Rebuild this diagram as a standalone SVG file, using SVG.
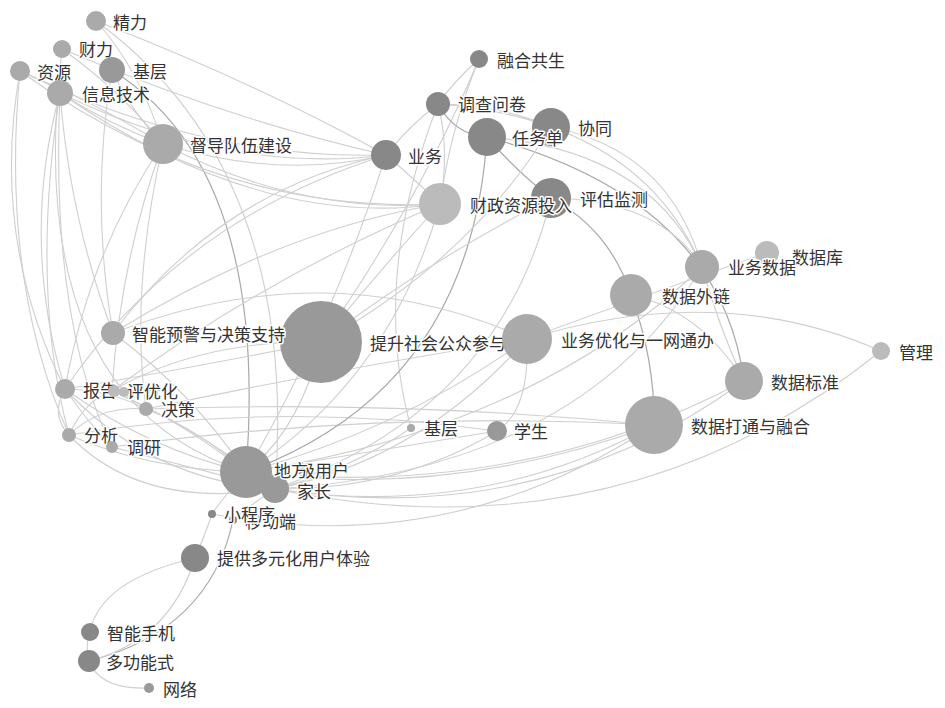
<svg xmlns="http://www.w3.org/2000/svg" width="945" height="708" viewBox="0 0 945 708">
<style>
.e{fill:none;stroke:#cfcfcf;stroke-width:1.1}
.d{fill:none;stroke:#a8a8a8;stroke-width:1.2}
.lbl{font-family:"Noto Sans CJK SC","Noto Sans",sans-serif;font-size:17px;fill:#333;stroke:#fff;stroke-width:3px;paint-order:stroke;stroke-linejoin:round;dominant-baseline:central}
.c1{fill:#aaaaaa}.c2{fill:#999999}.c3{fill:#888888}.c4{fill:#bbbbbb}
</style>
<rect width="945" height="708" fill="#fff"/>
<g id="edges">
<path class="e" d="M96 21 Q140 70 163 144"/>
<path class="e" d="M62 49 Q120 90 163 144"/>
<path class="e" d="M20 71 Q90 100 163 144"/>
<path class="e" d="M112 70 Q130 110 163 144"/>
<path class="e" d="M60 93 Q110 125 163 144"/>
<path class="e" d="M96 21 Q300 170 275 489"/>
<path class="d" d="M112 70 Q270 170 246 472"/>
<path class="e" d="M163 144 Q280 180 386 155"/>
<path class="e" d="M60 93 Q230 175 386 155"/>
<path class="e" d="M20 71 Q200 160 386 155"/>
<path class="e" d="M62 49 Q230 120 386 155"/>
<path class="e" d="M113 333 Q220 190 386 155"/>
<path class="e" d="M65 389 Q180 220 386 155"/>
<path class="e" d="M163 144 Q300 215 440 204"/>
<path class="e" d="M60 93 Q260 230 440 204"/>
<path class="e" d="M20 71 Q220 215 440 204"/>
<path class="e" d="M113 333 Q280 230 440 204"/>
<path class="e" d="M112 391 Q260 280 440 204"/>
<path class="e" d="M20 71 Q-10 240 65 389"/>
<path class="e" d="M20 71 Q0 280 69 435"/>
<path class="e" d="M60 93 Q20 240 65 389"/>
<path class="e" d="M60 93 Q30 290 69 435"/>
<path class="e" d="M62 49 Q20 400 246 472"/>
<path class="e" d="M60 93 Q70 220 113 333"/>
<path class="e" d="M163 144 Q90 250 65 389"/>
<path class="e" d="M163 144 Q120 260 112 391"/>
<path class="e" d="M163 144 Q130 290 146 409"/>
<path class="e" d="M60 93 Q50 320 112 447"/>
<path class="e" d="M112 70 Q90 200 113 333"/>
<path class="e" d="M65 389 Q150 450 246 472"/>
<path class="e" d="M65 389 Q150 480 275 489"/>
<path class="e" d="M69 435 Q150 470 246 472"/>
<path class="e" d="M69 435 Q140 510 275 489"/>
<path class="e" d="M112 447 Q200 470 275 489"/>
<path class="e" d="M146 409 Q200 430 246 472"/>
<path class="e" d="M112 391 Q180 420 246 472"/>
<path class="e" d="M112 391 Q200 430 275 489"/>
<path class="e" d="M113 333 Q190 390 246 472"/>
<path class="e" d="M65 389 Q50 415 69 435"/>
<path class="e" d="M65 389 Q90 425 112 447"/>
<path class="e" d="M69 435 Q100 405 146 409"/>
<path class="e" d="M69 435 Q85 400 112 391"/>
<path class="e" d="M65 389 Q110 390 146 409"/>
<path class="e" d="M112 391 Q200 340 321 342"/>
<path class="e" d="M65 389 Q180 370 321 342"/>
<path class="e" d="M146 409 Q330 370 527 339"/>
<path class="e" d="M69 435 Q280 400 497 431"/>
<path class="e" d="M112 447 Q380 410 654 425"/>
<path class="e" d="M146 409 Q400 400 654 425"/>
<path class="e" d="M479 59 Q455 80 438 104"/>
<path class="e" d="M479 59 Q420 200 321 342"/>
<path class="e" d="M479 59 Q450 130 440 204"/>
<path class="e" d="M438 104 Q410 125 386 155"/>
<path class="e" d="M438 104 Q450 150 440 204"/>
<path class="d" d="M438 104 Q455 135 487 137"/>
<path class="e" d="M438 104 Q500 105 551 127"/>
<path class="e" d="M438 104 Q640 120 702 267"/>
<path class="e" d="M438 104 Q370 280 411 428"/>
<path class="e" d="M386 155 Q410 175 440 204"/>
<path class="d" d="M487 137 Q515 170 551 198"/>
<path class="e" d="M487 137 Q650 150 702 267"/>
<path class="d" d="M487 137 Q720 200 744 381"/>
<path class="d" d="M487 137 Q470 390 246 472"/>
<path class="e" d="M551 127 Q670 150 702 267"/>
<path class="e" d="M551 127 Q470 260 321 342"/>
<path class="d" d="M551 198 Q610 230 631 295"/>
<path class="e" d="M551 198 Q500 410 275 489"/>
<path class="e" d="M551 198 Q660 200 702 267"/>
<path class="d" d="M631 295 Q655 360 654 425"/>
<path class="e" d="M702 267 Q530 430 246 472"/>
<path class="e" d="M702 267 Q580 470 275 489"/>
<path class="e" d="M767 253 Q660 290 527 339"/>
<path class="e" d="M702 267 Q720 330 744 381"/>
<path class="e" d="M631 295 Q700 310 744 381"/>
<path class="e" d="M881 351 Q720 280 527 339"/>
<path class="e" d="M881 351 Q620 560 275 489"/>
<path class="e" d="M654 425 Q480 520 275 489"/>
<path class="e" d="M654 425 Q450 500 246 472"/>
<path class="e" d="M654 425 Q450 560 212 514"/>
<path class="e" d="M744 381 Q520 500 246 472"/>
<path class="e" d="M744 381 Q540 530 275 489"/>
<path class="e" d="M527 339 Q400 430 246 472"/>
<path class="e" d="M527 339 Q420 460 275 489"/>
<path class="e" d="M527 339 Q530 410 497 431"/>
<path class="e" d="M497 431 Q380 450 246 472"/>
<path class="e" d="M497 431 Q400 490 275 489"/>
<path class="e" d="M321 342 Q300 430 246 472"/>
<path class="e" d="M321 342 Q430 260 551 198"/>
<path class="e" d="M113 333 Q330 250 527 339"/>
<path class="e" d="M440 204 Q390 380 246 472"/>
<path class="e" d="M440 204 Q380 270 321 342"/>
<path class="e" d="M386 155 Q330 330 246 472"/>
<path class="e" d="M411 428 Q350 470 275 489"/>
<path class="e" d="M96 21 Q250 80 386 155"/>
<path class="e" d="M212 514 Q205 535 195 558"/>
<path class="d" d="M233 520 Q210 630 89 661"/>
<path class="e" d="M195 558 Q100 580 90 632"/>
<path class="e" d="M195 558 Q170 640 89 661"/>
<path class="e" d="M89 661 Q100 690 149 688"/>
<path class="e" d="M90 632 Q85 645 89 661"/>
<path class="e" d="M246 472 Q225 495 212 514"/>
<path class="e" d="M275 489 Q250 505 233 520"/>
</g>
<g id="n-jingli"><circle class="c1" cx="96" cy="21" r="10"/><text class="lbl" x="113" y="21">精力</text></g>
<g id="n-caili"><circle class="c1" cx="62" cy="49" r="9"/><text class="lbl" x="79" y="48">财力</text></g>
<g id="n-ziyuan"><circle class="c1" cx="20" cy="71" r="10"/><text class="lbl" x="37" y="71">资源</text></g>
<g id="n-jiceng1"><circle class="c2" cx="112" cy="70" r="13"/><text class="lbl" x="133" y="70">基层</text></g>
<g id="n-xinxi"><circle class="c1" cx="60" cy="93" r="13"/><text class="lbl" x="82" y="93">信息技术</text></g>
<g id="n-dudao"><circle class="c1" cx="163" cy="144" r="20"/><text class="lbl" x="190" y="144">督导队伍建设</text></g>
<g id="n-ronghe"><circle class="c3" cx="479" cy="59" r="9"/><text class="lbl" x="497" y="59">融合共生</text></g>
<g id="n-diaocha"><circle class="c3" cx="438" cy="104" r="12"/><text class="lbl" x="458" y="103">调查问卷</text></g>
<g id="n-yewu"><circle class="c3" cx="386" cy="155" r="15"/><text class="lbl" x="408" y="155">业务</text></g>
<g id="n-xietong"><circle class="c3" cx="551" cy="127" r="19"/><text class="lbl" x="578" y="127">协同</text></g>
<g id="n-renwu"><circle class="c3" cx="487" cy="137" r="19"/><text class="lbl" x="512" y="137">任务单</text></g>
<g id="n-pinggu"><circle class="c3" cx="551" cy="198" r="20"/><text class="lbl" x="580" y="198">评估监测</text></g>
<g id="n-caizheng"><circle class="c4" cx="440" cy="204" r="21"/><text class="lbl" x="470" y="204">财政资源投入</text></g>
<g id="n-shujuku"><circle class="c4" cx="767" cy="253" r="12"/><text class="lbl" x="792" y="256">数据库</text></g>
<g id="n-yewushuju"><circle class="c1" cx="702" cy="267" r="17"/><text class="lbl" x="728" y="266">业务数据</text></g>
<g id="n-wailian"><circle class="c1" cx="631" cy="295" r="21"/><text class="lbl" x="662" y="295">数据外链</text></g>
<g id="n-tisheng"><circle class="c2" cx="321" cy="342" r="41"/><text class="lbl" x="370" y="342">提升社会公众参与</text></g>
<g id="n-youhua1"><circle class="c1" cx="527" cy="339" r="25"/><text class="lbl" x="561" y="339">业务优化与一网通办</text></g>
<g id="n-guanli"><circle class="c4" cx="881" cy="351" r="9"/><text class="lbl" x="899" y="351">管理</text></g>
<g id="n-biaozhun"><circle class="c1" cx="744" cy="381" r="19"/><text class="lbl" x="771" y="381">数据标准</text></g>
<g id="n-datong"><circle class="c1" cx="654" cy="425" r="29"/><text class="lbl" x="691" y="425">数据打通与融合</text></g>
<g id="n-zhineng"><circle class="c1" cx="113" cy="333" r="12"/><text class="lbl" x="132" y="333">智能预警与决策支持</text></g>
<g id="n-baogao"><circle class="c1" cx="65" cy="389" r="10"/><text class="lbl" x="83" y="389">报告</text></g>
<g id="n-pingjia"><circle class="c4" cx="114" cy="391" r="6"/><text class="lbl" x="127" y="390">评价</text></g>
<g id="n-youhua2"><circle class="c4" cx="124" cy="392" r="5"/><text class="lbl" x="144" y="390">优化</text></g>
<g id="n-juece"><circle class="c1" cx="146" cy="409" r="7"/><text class="lbl" x="161" y="408">决策</text></g>
<g id="n-fenxi"><circle class="c1" cx="69" cy="435" r="7"/><text class="lbl" x="84" y="434">分析</text></g>
<g id="n-diaoyan"><circle class="c1" cx="112" cy="447" r="6"/><text class="lbl" x="127" y="446">调研</text></g>
<g id="n-jiazhang"><circle class="c2" cx="275" cy="489" r="14"/><text class="lbl" x="297" y="490">家长</text></g>
<g id="n-jiyonghu"><circle class="c2" cx="260" cy="472" r="9"/><text class="lbl" x="298" y="469">级用户</text></g>
<g id="n-difang"><circle class="c2" cx="246" cy="472" r="26"/><text class="lbl" x="274" y="469">地方</text></g>
<g id="n-yidong"><circle class="c3" cx="233" cy="520" r="4"/><text class="lbl" x="245" y="520">移动端</text></g>
<g id="n-xiaochengxu"><circle class="c3" cx="212" cy="514" r="4"/><text class="lbl" x="224" y="513">小程序</text></g>
<g id="n-jiceng2"><circle class="c1" cx="411" cy="428" r="4"/><text class="lbl" x="424" y="427">基层</text></g>
<g id="n-xuesheng"><circle class="c2" cx="497" cy="431" r="10"/><text class="lbl" x="514" y="430">学生</text></g>
<g id="n-tigong"><circle class="c3" cx="195" cy="558" r="14"/><text class="lbl" x="217" y="557">提供多元化用户体验</text></g>
<g id="n-shouji"><circle class="c3" cx="90" cy="632" r="9"/><text class="lbl" x="107" y="632">智能手机</text></g>
<g id="n-duogongneng"><circle class="c3" cx="89" cy="661" r="11"/><text class="lbl" x="106" y="661">多功能式</text></g>
<g id="n-wangluo"><circle class="c2" cx="149" cy="688" r="5"/><text class="lbl" x="163" y="688">网络</text></g>
</svg>
